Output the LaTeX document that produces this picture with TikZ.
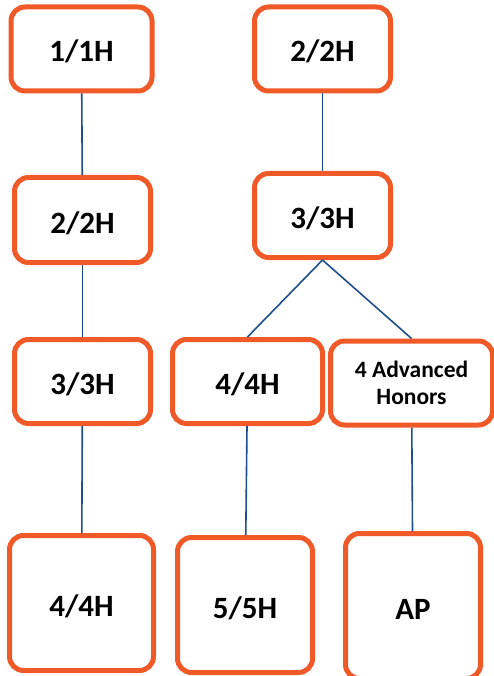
\documentclass[tikz,border=0pt]{standalone}
\usepackage{fontspec}
\setmainfont{Carlito}
\usepackage{tikz}
\usetikzlibrary{positioning}
\definecolor{TrackOrange}{HTML}{F05A28}
\definecolor{TrackBlue}{HTML}{1F4E8C}

\begin{document}
\begin{tikzpicture}[x=1pt, y=-1pt,
                    every node/.style={draw=TrackOrange, line width=5pt, rounded corners=14pt,
                                       align=center, inner sep=0pt, fill=white,
                                       text height=27pt, text depth=1pt,
                                       font=\bfseries\fontsize{31}{33}\selectfont},
                    link/.style={draw=TrackBlue, line width=1.6pt}]
\useasboundingbox (0,0) rectangle (493,676);
\node[minimum width=141pt, minimum height=84pt] (one) at (81.5,49) {1/1H};
\node[minimum width=136pt, minimum height=85pt] (two) at (82.5,220) {2/2H};
\node[minimum width=136pt, minimum height=84pt] (three) at (82.5,381.5) {3/3H};
\node[minimum width=144pt, minimum height=135pt] (four) at (81.5,603) {4/4H};
\node[minimum width=136pt, minimum height=84pt] (twoH) at (322.5,49) {2/2H};
\node[minimum width=136pt, minimum height=84pt] (threeH) at (322.5,215.5) {3/3H};
\node[minimum width=150pt, minimum height=84pt] (fourH) at (247.5,381.5) {4/4H};
\node[minimum width=162pt, minimum height=84pt, text height=, text depth=,
      font=\bfseries\fontsize{23.5}{27.5}\selectfont] (adv) at (411.5,383) {4 Advanced\\Honors};
\node[minimum width=135pt, minimum height=135pt] (five) at (245,605) {5/5H};
\node[minimum width=135pt, minimum height=145pt] (ap) at (413,606) {AP};
\draw[link] (one) -- (two);
\draw[link] (two) -- (three);
\draw[link] (three) -- (four);
\draw[link] (twoH) -- (threeH);
\draw[link] (threeH.south) -- (fourH.north);
\draw[link] (threeH.south) -- (adv.north);
\draw[link] (fourH) -- (five);
\draw[link] (adv) -- (ap);
\end{tikzpicture}
\end{document}
